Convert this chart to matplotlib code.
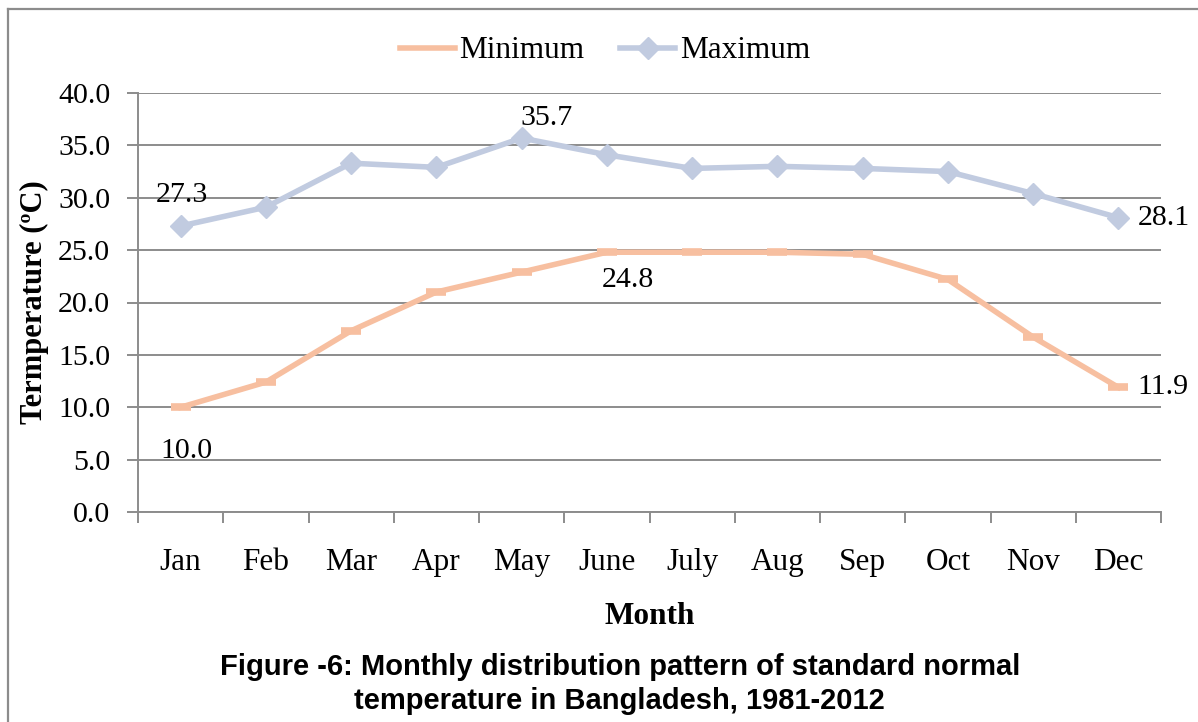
import matplotlib
matplotlib.use("Agg")
import matplotlib.pyplot as plt
from matplotlib.lines import Line2D
import numpy as np

months = ["Jan", "Feb", "Mar", "Apr", "May", "June", "July", "Aug", "Sep", "Oct", "Nov", "Dec"]
minimum = [10.0, 12.4, 17.3, 21.0, 22.9, 24.8, 24.8, 24.8, 24.6, 22.2, 16.7, 11.9]
maximum = [27.3, 29.1, 33.3, 32.9, 35.7, 34.1, 32.8, 33.0, 32.8, 32.5, 30.4, 28.1]
yticks = [0, 5, 10, 15, 20, 25, 30, 35, 40]

min_color = "#F7BFA0"
max_color = "#C1CBE0"
grid_color = "#8C8C8C"
serif = ["Liberation Serif", "DejaVu Serif"]
sans = ["Liberation Sans", "DejaVu Sans"]

fig = plt.figure(figsize=(11.98, 7.22), dpi=100)
ax = fig.add_axes([138/1198, 1-512/722, (1161-138)/1198, (512-93)/722])

x = np.arange(len(months))
ax.plot(x, minimum, color=min_color, lw=4, marker="_", ms=14, mew=5.5, label="Minimum", zorder=3)
ax.plot(x, maximum, color=max_color, lw=4, marker="D", ms=11, label="Maximum", zorder=3)

ax.set_xlim(-0.5, 11.5)
ax.set_ylim(0, 40)
ax.set_yticks(yticks)
ax.set_yticklabels([f"{v:.1f}" for v in yticks], fontfamily=serif, fontsize=21.5)
ax.set_xticks(x)
ax.set_xticklabels(months, fontfamily=serif, fontsize=22.5)
ax.set_xticks(np.arange(-0.5, 12, 1), minor=True)
ax.tick_params(axis="x", which="major", length=0, pad=26)
ax.tick_params(axis="x", which="minor", length=8, width=1.4, color=grid_color)
ax.tick_params(axis="y", length=8, width=1.4, color=grid_color, pad=12)
ax.yaxis.grid(True, color=grid_color, lw=1.4)
ax.set_axisbelow(True)
for s in ["top", "right"]:
    ax.spines[s].set_visible(False)
for s in ["left", "bottom"]:
    ax.spines[s].set_color(grid_color)
    ax.spines[s].set_linewidth(1.4)

ax.set_xlabel("Month", fontfamily=serif, fontsize=22.5, fontweight="bold", va="center")
ax.xaxis.set_label_coords(0.5005, (512-617)/419)
ax.set_ylabel("Termperature (ºC)", fontfamily=serif, fontsize=22, fontweight="bold", va="center")
ax.yaxis.set_label_coords((34-138)/1023, 0.5)

# data labels
lab = dict(fontfamily=serif, fontsize=21.5, textcoords="offset points")
ax.annotate(f"{maximum[0]:.1f}", (x[0], maximum[0]), xytext=(1, 13), ha="center", va="bottom", **lab)
ax.annotate(f"{maximum[4]:.1f}", (x[4], maximum[4]), xytext=(18, 5), ha="center", va="bottom", **lab)
ax.annotate(f"{maximum[11]:.1f}", (x[11], maximum[11]), xytext=(14, 0), ha="left", va="center", **lab)
ax.annotate(f"{minimum[0]:.1f}", (x[0], minimum[0]), xytext=(4, -22), ha="center", va="top", **lab)
ax.annotate(f"{minimum[5]:.1f}", (x[5], minimum[5]), xytext=(15, -11), ha="center", va="top", **lab)
ax.annotate(f"{minimum[11]:.1f}", (x[11], minimum[11]), xytext=(14, 0), ha="left", va="center", **lab)

leg = fig.legend(loc="center", bbox_to_anchor=(605/1198, 1-51/722), ncol=2, frameon=False,
                 prop={"family": serif, "size": 22.5}, handlelength=1.75, handletextpad=0.15,
                 columnspacing=1.15, borderpad=0, borderaxespad=0)
for h in leg.legend_handles:
    h.set_markersize(11 if h.get_marker() == "D" else 0)

fig.text(620/1198, 1-667/722, "Figure -6: Monthly distribution pattern of standard normal",
         ha="center", va="center", fontfamily=sans, fontsize=21, fontweight="bold")
fig.text(619/1198, 1-701/722, "temperature in Bangladesh, 1981-2012",
         ha="center", va="center", fontfamily=sans, fontsize=21, fontweight="bold")

# outer frame (top & left visible)
fig.add_artist(Line2D([8/1198, 8/1198], [0, 1-9/722], transform=fig.transFigure, color="#8C8C8C", lw=1.6))
fig.add_artist(Line2D([8/1198, 1], [1-9/722, 1-9/722], transform=fig.transFigure, color="#8C8C8C", lw=1.6))

fig.savefig("out.png", dpi=100)
